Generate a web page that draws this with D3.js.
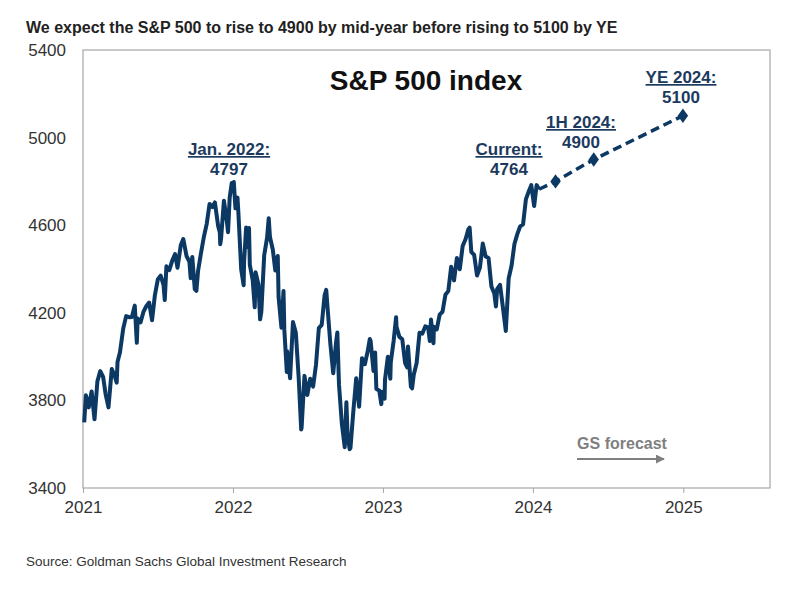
<!DOCTYPE html>
<html>
<head>
<meta charset="utf-8">
<script src="https://cdn.jsdelivr.net/npm/d3@7"></script>
<style>
  body { margin: 0; background: #fff; }
  svg { display: block; font-family: "Liberation Sans", Arial, sans-serif; }
</style>
</head>
<body>
<svg id="chart" width="800" height="593"></svg>
<script>
// S&P 500 closes (weekly, plus a few daily extremes)
const dates = [
  "2021-01-04","2021-01-08","2021-01-15","2021-01-22","2021-01-29","2021-02-05","2021-02-12","2021-02-19",
  "2021-02-25","2021-03-04","2021-03-12","2021-03-19","2021-03-24","2021-03-26","2021-04-01","2021-04-09",
  "2021-04-16","2021-04-23","2021-04-30","2021-05-07","2021-05-12","2021-05-14","2021-05-21","2021-05-28",
  "2021-06-04","2021-06-11","2021-06-18","2021-06-25","2021-07-02","2021-07-09","2021-07-16","2021-07-19",
  "2021-07-23","2021-07-30","2021-08-06","2021-08-13","2021-08-19","2021-08-27","2021-09-02","2021-09-10",
  "2021-09-17","2021-09-20","2021-09-24","2021-09-30","2021-10-04","2021-10-08","2021-10-15","2021-10-22",
  "2021-10-29","2021-11-05","2021-11-12","2021-11-18","2021-11-26","2021-11-30","2021-12-01","2021-12-03",
  "2021-12-10","2021-12-17","2021-12-20","2021-12-24","2021-12-29","2021-12-31",
  "2022-01-03","2022-01-07","2022-01-12","2022-01-14","2022-01-21","2022-01-27","2022-01-28","2022-02-02",
  "2022-02-04","2022-02-09","2022-02-11","2022-02-18","2022-02-23","2022-02-25","2022-03-04","2022-03-08",
  "2022-03-11","2022-03-18","2022-03-25","2022-03-29","2022-04-01","2022-04-08","2022-04-14","2022-04-20",
  "2022-04-22","2022-04-29","2022-05-04","2022-05-06","2022-05-12","2022-05-13","2022-05-20","2022-05-27",
  "2022-06-03","2022-06-10","2022-06-16","2022-06-17","2022-06-24","2022-07-01","2022-07-08","2022-07-15",
  "2022-07-22","2022-07-29","2022-08-05","2022-08-12","2022-08-16","2022-08-19","2022-08-26","2022-09-02",
  "2022-09-09","2022-09-12","2022-09-16","2022-09-23","2022-09-30","2022-10-04","2022-10-07","2022-10-12",
  "2022-10-14","2022-10-21","2022-10-28","2022-11-04","2022-11-11","2022-11-18","2022-11-25","2022-11-30",
  "2022-12-02","2022-12-09","2022-12-13","2022-12-16","2022-12-23","2022-12-28","2022-12-30",
  "2023-01-05","2023-01-06","2023-01-13","2023-01-19","2023-01-20","2023-01-27","2023-02-02","2023-02-03",
  "2023-02-10","2023-02-17","2023-02-24","2023-03-01","2023-03-03","2023-03-10","2023-03-13","2023-03-17",
  "2023-03-24","2023-03-31","2023-04-07","2023-04-14","2023-04-21","2023-04-25","2023-04-28","2023-05-04",
  "2023-05-05","2023-05-12","2023-05-19","2023-05-26","2023-06-02","2023-06-09","2023-06-16","2023-06-23",
  "2023-06-30","2023-07-07","2023-07-14","2023-07-21","2023-07-28","2023-07-31","2023-08-04","2023-08-11",
  "2023-08-18","2023-08-25","2023-09-01","2023-09-08","2023-09-15","2023-09-22","2023-09-29","2023-10-03",
  "2023-10-06","2023-10-13","2023-10-20","2023-10-27","2023-11-03","2023-11-10","2023-11-17","2023-11-24",
  "2023-12-01","2023-12-08","2023-12-15","2023-12-22","2023-12-28","2024-01-04","2024-01-10","2024-01-16"
];
const closes = [
  3700,3824,3768,3841,3714,3887,3934,3907,
  3829,3768,3943,3913,3881,3975,4020,4129,
  4185,4180,4181,4233,4063,4174,4156,4204,
  4230,4247,4166,4281,4352,4370,4327,4258,
  4412,4395,4437,4468,4406,4509,4537,4459,
  4433,4358,4455,4308,4300,4391,4471,4545,
  4605,4697,4683,4704,4595,4567,4513,4538,
  4712,4620,4568,4726,4793,4766,
  4797,4677,4726,4663,4398,4326,4432,4589,
  4501,4587,4419,4349,4225,4385,4329,4170,
  4204,4463,4543,4632,4546,4488,4393,4459,
  4272,4132,4300,4123,3930,4024,3901,4158,
  4109,3901,3667,3675,3912,3825,3899,3863,
  3962,4130,4145,4280,4305,4228,4058,3924,
  4067,4110,3873,3693,3586,3791,3640,3577,
  3583,3752,3901,3771,3993,3965,4026,4080,
  4072,3934,4019,3852,3845,3783,3840,
  3808,3895,3999,3899,3973,4071,4180,4136,
  4090,4079,3970,3951,4046,3862,3855,3917,
  3971,4109,4105,4138,4133,4071,4169,4061,
  4136,4124,4192,4205,4282,4299,4410,4348,
  4450,4399,4505,4536,4582,4589,4478,4464,
  4370,4406,4516,4457,4450,4320,4288,4229,
  4309,4327,4224,4117,4358,4415,4514,4559,
  4595,4604,4719,4755,4783,4688,4783,4764
];

// GS forecast path
const forecastDates = ["2024-01-16", "2024-02-25", "2024-05-28", "2024-12-31"];
const forecastValues = [4764, 4800, 4900, 5100];

const yTicks = [3400, 3800, 4200, 4600, 5000, 5400];
const xTickYears = [2021, 2022, 2023, 2024, 2025];

const annHeads = ["Jan. 2022:", "Current:", "1H 2024:", "YE 2024:"];
const annValues = ["4797", "4764", "4900", "5100"];

const parse = d3.timeParse("%Y-%m-%d");
const series = dates.map((d, i) => ({ date: parse(d), value: closes[i] }));
const forecast = forecastDates.map((d, i) => ({ date: parse(d), value: forecastValues[i] }));

const svg = d3.select("#chart");
const plotL = 83, plotR = 770, plotT = 50, plotB = 488;

const x = d3.scaleTime()
  .domain([new Date(2021, 0, 1), new Date(2025, 6, 31)])
  .range([plotL, plotR]);
const y = d3.scaleLinear()
  .domain([3400, 5400])
  .range([plotB, plotT]);

const lineColor = "#0c3864";
const textColor = "#1c3a5e";

// Title
svg.append("text")
  .attr("x", 26).attr("y", 33)
  .attr("font-size", "16px").attr("font-weight", "bold")
  .attr("fill", "#222")
  .text("We expect the S&P 500 to rise to 4900 by mid-year before rising to 5100 by YE");

// Frame
svg.append("rect")
  .attr("x", plotL).attr("y", plotT)
  .attr("width", plotR - plotL).attr("height", plotB - plotT)
  .attr("fill", "none").attr("stroke", "#a6a6a6").attr("stroke-width", 1.2);

// X axis
svg.append("g")
  .attr("transform", `translate(0,${plotB})`)
  .call(d3.axisBottom(x)
    .tickValues(xTickYears.map(yr => new Date(yr, 0, 1)))
    .tickFormat(d3.timeFormat("%Y"))
    .tickSize(5).tickPadding(8))
  .call(g => g.select(".domain").remove())
  .call(g => g.selectAll("line").attr("stroke", "#a6a6a6"))
  .call(g => g.selectAll("text")
    .attr("font-size", "17px").attr("fill", "#333")
    .attr("font-family", "Liberation Sans, Arial, sans-serif"));

// Y axis
svg.append("g")
  .attr("transform", `translate(${plotL},0)`)
  .call(d3.axisLeft(y).tickValues(yTicks).tickFormat(d3.format("d"))
    .tickSize(0).tickPadding(17))
  .call(g => g.select(".domain").remove())
  .call(g => g.selectAll("text")
    .attr("font-size", "17px").attr("fill", "#333")
    .attr("font-family", "Liberation Sans, Arial, sans-serif"));

// Chart title inside plot
svg.append("text")
  .attr("x", 426).attr("y", 90)
  .attr("text-anchor", "middle")
  .attr("font-size", "28px").attr("font-weight", "bold")
  .attr("fill", "#111")
  .text("S&P 500 index");

// Index line
svg.append("path")
  .datum(series)
  .attr("fill", "none")
  .attr("stroke", lineColor)
  .attr("stroke-width", 4)
  .attr("stroke-linejoin", "round")
  .attr("d", d3.line().x(d => x(d.date)).y(d => y(d.value)));

// Forecast dashed line
svg.append("path")
  .datum(forecast)
  .attr("fill", "none")
  .attr("stroke", lineColor)
  .attr("stroke-width", 3.5)
  .attr("stroke-dasharray", "9,5")
  .attr("d", d3.line().x(d => x(d.date)).y(d => y(d.value)));

svg.append("g")
  .selectAll("path")
  .data(forecast.slice(1))
  .join("path")
  .attr("transform", d => `translate(${x(d.date)},${y(d.value)}) scale(1.25,1)`)
  .attr("d", d3.symbol(d3.symbolDiamond, 60))
  .attr("fill", lineColor);

// Annotations (centre x, baseline y of first line)
const annPos = [[229, 155], [509, 155], [581, 128], [681, 83]];
const ann = svg.append("g")
  .attr("font-size", "17px").attr("font-weight", "bold")
  .attr("fill", textColor).attr("text-anchor", "middle");
annHeads.forEach((h, i) => {
  const [cx, by] = annPos[i];
  ann.append("text").attr("x", cx).attr("y", by)
    .attr("text-decoration", "underline").text(h);
  ann.append("text").attr("x", cx).attr("y", by + 20).text(annValues[i]);
});

// GS forecast label with arrow
svg.append("defs").append("marker")
  .attr("id", "arrow").attr("viewBox", "0 0 10 10")
  .attr("refX", 9).attr("refY", 5)
  .attr("markerWidth", 5).attr("markerHeight", 5)
  .attr("orient", "auto")
  .append("path").attr("d", "M0,0L10,5L0,10Z").attr("fill", "#7f7f7f");

svg.append("text")
  .attr("x", 622).attr("y", 449)
  .attr("text-anchor", "middle")
  .attr("font-size", "16px").attr("font-weight", "bold")
  .attr("fill", "#7f7f7f")
  .text("GS forecast");

svg.append("line")
  .attr("x1", 577).attr("x2", 664)
  .attr("y1", 459).attr("y2", 459)
  .attr("stroke", "#7f7f7f").attr("stroke-width", 1.8)
  .attr("marker-end", "url(#arrow)");

// Source
svg.append("text")
  .attr("x", 26).attr("y", 566)
  .attr("font-size", "13.5px")
  .attr("fill", "#333")
  .text("Source: Goldman Sachs Global Investment Research");
</script>
</body>
</html>
